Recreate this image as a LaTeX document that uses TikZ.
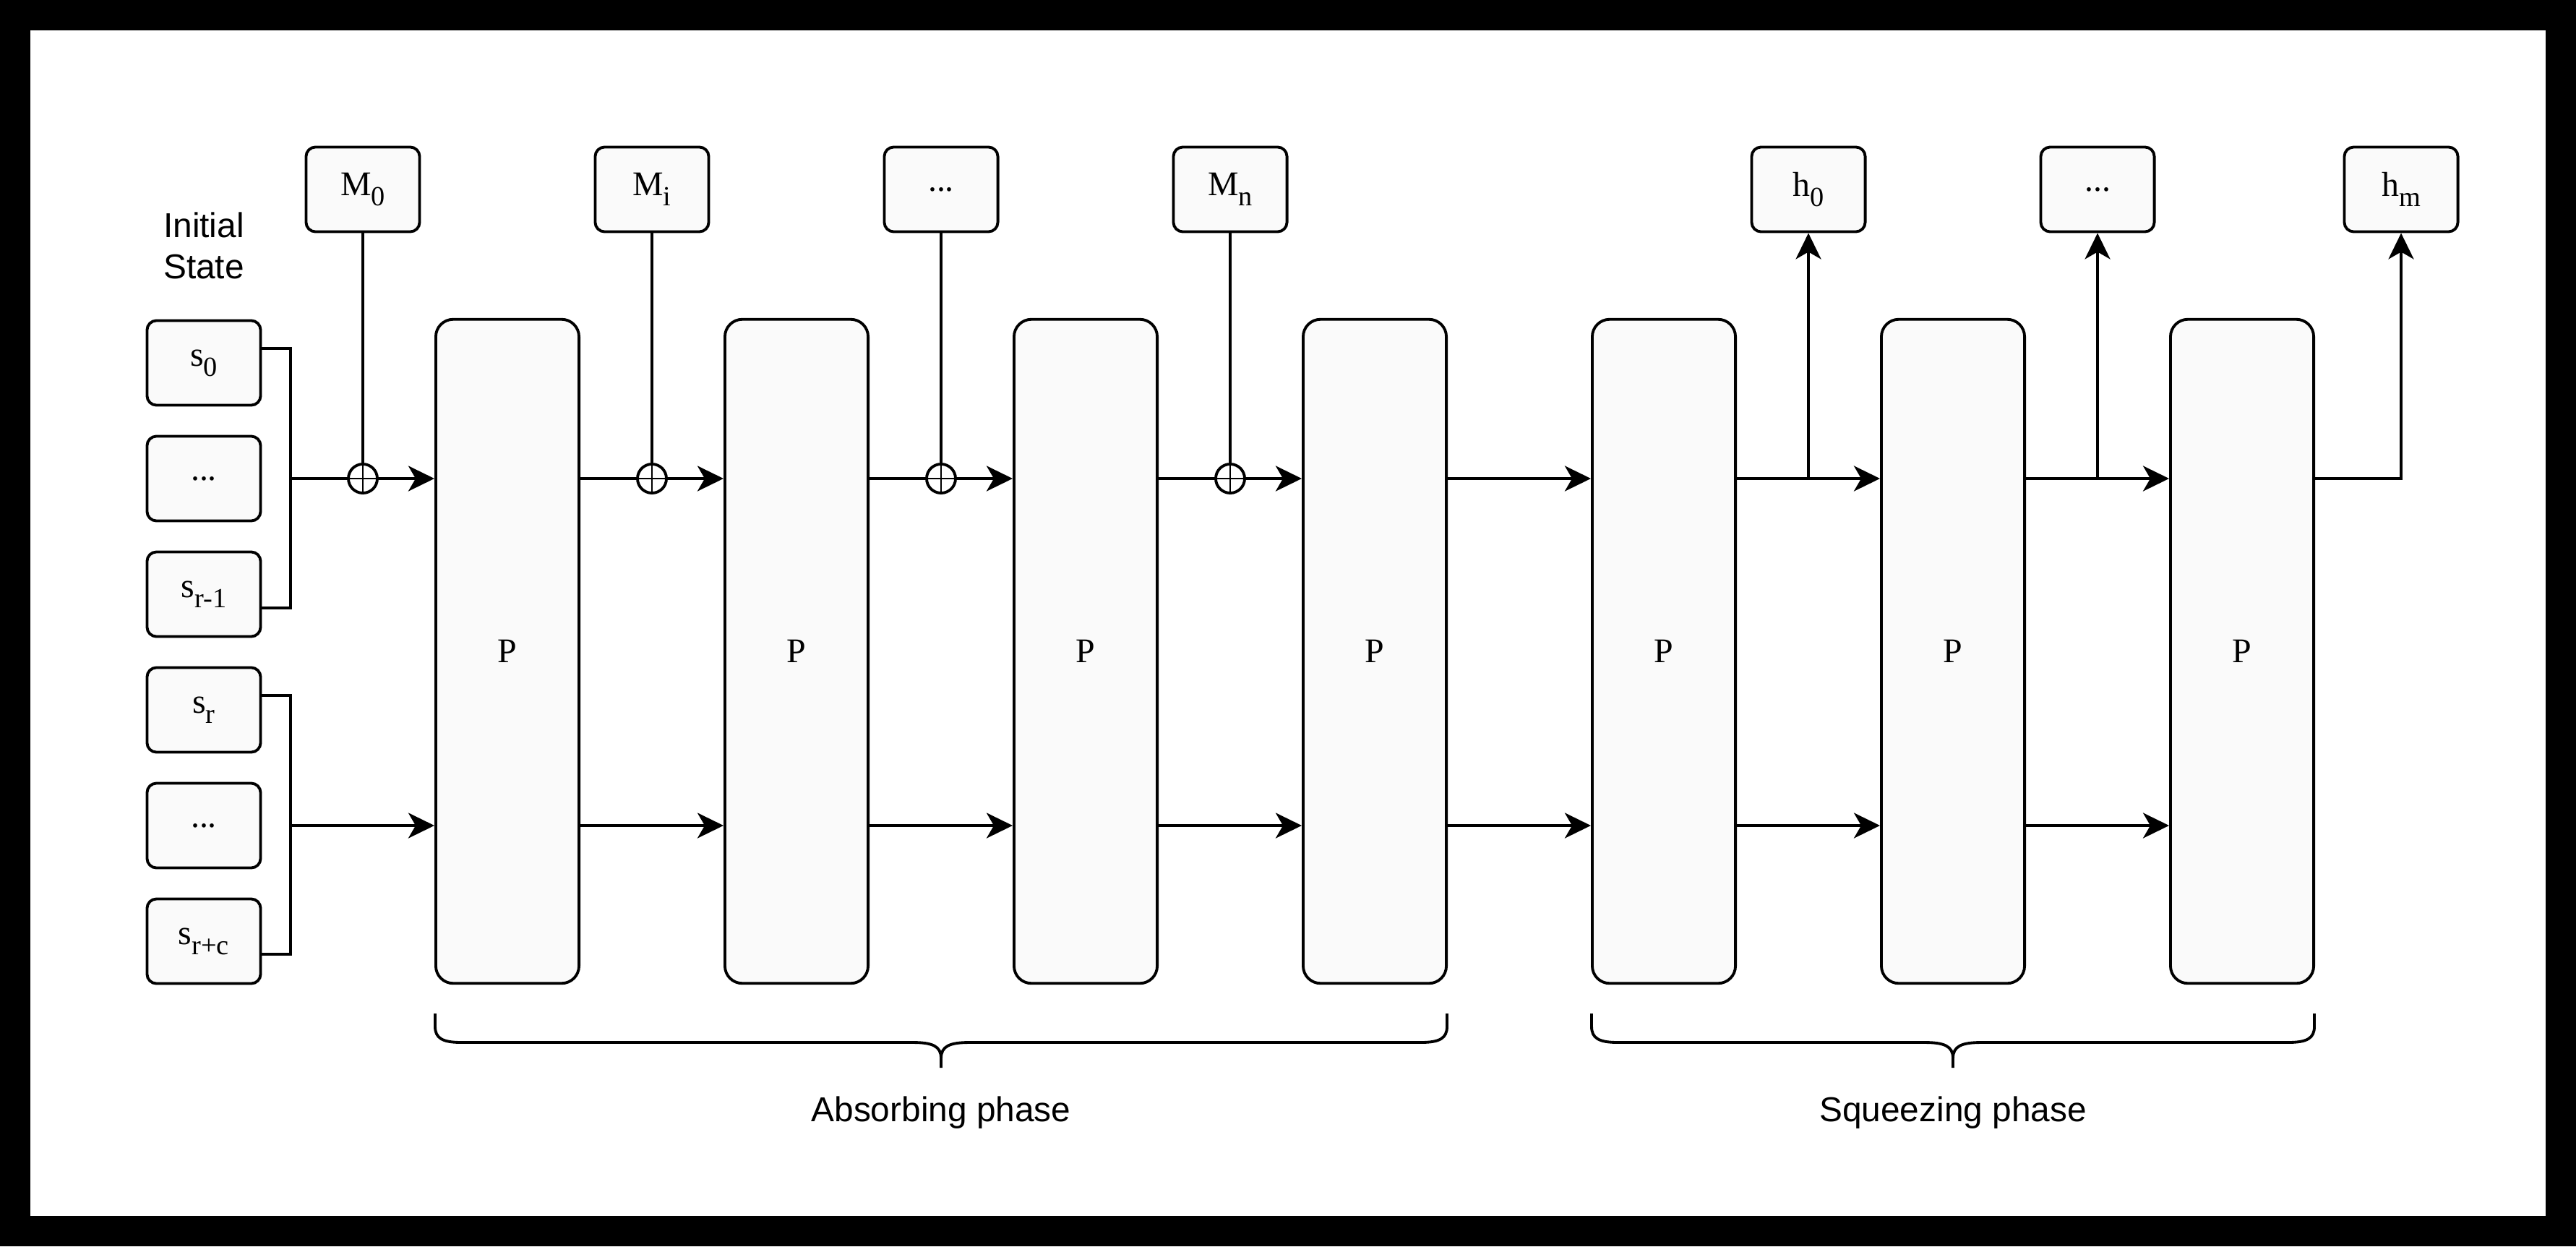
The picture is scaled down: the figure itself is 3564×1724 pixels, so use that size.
\documentclass[tikz,border=0pt]{standalone}
\usepackage{fontspec}
\setmainfont{Liberation Serif}
\newfontfamily\helv{Liberation Sans}
\usetikzlibrary{arrows.meta}
\definecolor{boxgray}{HTML}{FAFAFA}
\newcommand{\lowsub}[1]{\raisebox{-0.14cm}{\fontsize{10.9}{12}\selectfont #1}}

\begin{document}
\begin{tikzpicture}[x=0.01cm,y=-0.01cm,
  box/.style={draw,line width=1.1pt,fill=boxgray,rounded corners=0.13cm,minimum width=1.57cm,minimum height=1.17cm,inner sep=0pt,font=\fontsize{13.6}{16}\selectfont},
  perm/.style={draw,line width=1.1pt,fill=boxgray,rounded corners=0.24cm,minimum width=1.98cm,minimum height=9.18cm,inner sep=0pt,font=\fontsize{13.6}{16}\selectfont},
  xorc/.style={circle,draw,line width=1.1pt,fill=white,minimum size=0.4cm,inner sep=0pt,
    path picture={\draw[line width=0.6pt] (path picture bounding box.north) -- (path picture bounding box.south) (path picture bounding box.west) -- (path picture bounding box.east);}},
  wire/.style={line width=1.1pt},
  arr/.style={line width=1.1pt,-{Stealth[length=0.36cm,width=0.35cm,inset=0.1cm]}},
  phase/.style={font=\helv\fontsize{13.6}{16.2}\selectfont,align=center}]

% frame
\fill[black] (0,0) rectangle (3564,1724);
\fill[white] (42,42) rectangle (3522,1682);

\node[phase] (init) at (282,340) {Initial\\State};

\foreach \i/\t in {0/{s\lowsub{0}},1/{...},2/{s\lowsub{r-1}},3/{s\lowsub{r}},4/{...},5/{s\lowsub{r+c}}}
{
        \node[box] (s\i) at (282,502+160*\i) {\t};
}

\foreach \k in {1,...,7}
{
        \node[perm] (p\k) at (302+400*\k,901) {P};
}

\coordinate (ja) at (402,662);
\coordinate (jb) at (402,1142);

% state brackets
\draw[wire] ([yshift=0.2cm]s0.east) -| (ja) |- ([yshift=-0.19cm]s2.east);
\draw[wire] ([yshift=0.2cm]s3.east) -| (jb) |- ([yshift=-0.18cm]s5.east);

% absorbing
\foreach \k/\t in {1/{M\lowsub{0}},2/{M\lowsub{i}},3/{...},4/{M\lowsub{n}}}
{
        \node[xorc] (x\k) at (102+400*\k,662) {};
        \node[box] (m\k) at (102+400*\k,262) {\t};
        \draw[wire] (m\k) -- (x\k);
}
\draw[wire] (ja) -- (x1);
\draw[arr] (x1) -- (p1.west |- ja);
\foreach \k in {1,...,3}
{
        \pgfmathtruncatemacro{\n}{\k+1};
        \draw[wire] (p\k.east |- ja) -- (x\n);
        \draw[arr] (x\n) -- (p\n.west |- ja);
}
\foreach \k in {4,...,6}
{
        \pgfmathtruncatemacro{\n}{\k+1};
        \draw[arr] (p\k.east |- ja) -- (p\n.west |- ja);
}
\draw[arr] (jb) -- (p1.west |- jb);
\foreach \k in {1,...,6}
{
        \pgfmathtruncatemacro{\n}{\k+1};
        \draw[arr] (p\k.east |- jb) -- (p\n.west |- jb);
}

% squeezing
\node[box] (h0) at (2502,262) {h\lowsub{0}};
\node[box] (hd) at (2902,262) {...};
\node[box] (hm) at (3322,262) {h\lowsub{m}};
\draw[arr] (h0 |- ja) -- (h0);
\draw[arr] (hd |- ja) -- (hd);
\draw[arr] (p7.east |- ja) -| (hm);

% phases
\foreach \a/\b/\t/\nm in {602/2002/Absorbing phase/absorb,2202/3202/Squeezing phase/squeeze}
{
        \pgfmathsetmacro{\c}{(\a+\b)/2};
        \draw[wire] (\a,1402) -- (\a,1420) .. controls (\a,1436) and (\a+10,1442) .. (\a+36,1442)
          -- (\c-40,1442) .. controls (\c-12,1442) and (\c,1447) .. (\c,1464) -- (\c,1477);
        \draw[wire] (\c,1464) .. controls (\c,1447) and (\c+12,1442) .. (\c+40,1442)
          -- (\b-36,1442) .. controls (\b-10,1442) and (\b,1436) .. (\b,1420) -- (\b,1402);
        \node[phase] (\nm) at (\c,1539) {\t};
}
\end{tikzpicture}
\end{document}
